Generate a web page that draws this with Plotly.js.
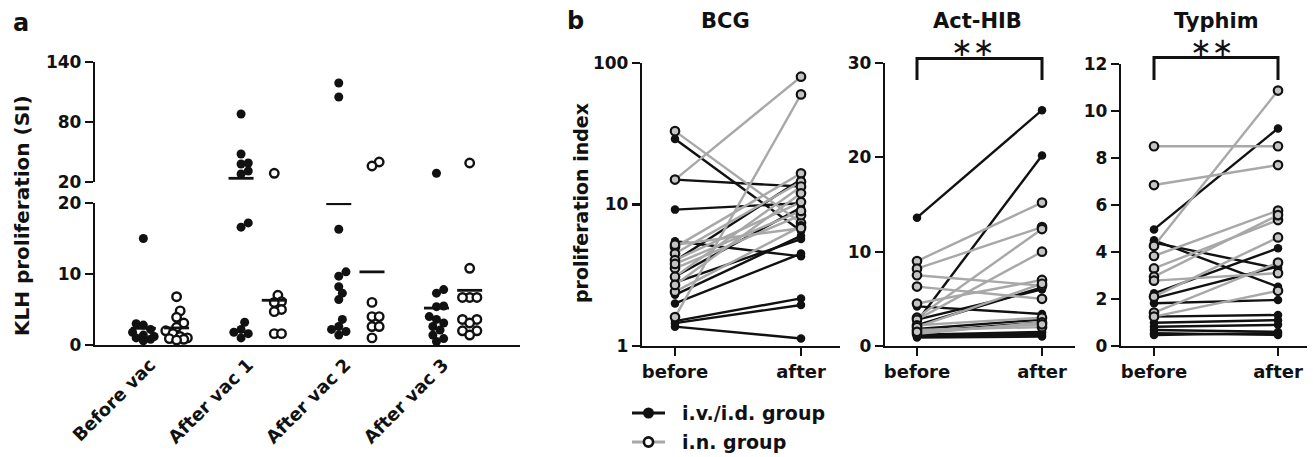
<!DOCTYPE html>
<html><head><meta charset="utf-8">
<script src="https://cdn.plot.ly/plotly-3.0.1.min.js"></script>
<style>html,body{margin:0;padding:0;background:#fff}#chart{width:1313px;height:457px}</style>
</head><body><div id="chart"></div>
<script>
// ---------- Panel a data (KLH proliferation, SI) ----------
const categoriesA = ['Before vac', 'After vac 1', 'After vac 2', 'After vac 3'];
const klhIvidBefore = [15.0, 3.0, 2.8, 2.2, 1.8, 1.4, 1.2, 1.0, 0.8, 0.6];
const klhIvidVac1   = [88, 48, 39, 38, 31, 28, 17.2, 16.6, 3.2, 2.2, 1.8, 1.6, 1.0];
const klhIvidVac2   = [119, 105, 16.3, 10.3, 9.7, 8.2, 7.3, 6.4, 3.6, 2.6, 2.2, 1.9, 1.4];
const klhIvidVac3   = [28.7, 7.8, 7.3, 5.5, 5.4, 4.0, 3.6, 3.1, 2.6, 2.1, 1.4, 0.9, 0.5];
const klhInBefore   = [6.8, 4.8, 3.9, 3.1, 2.5, 2.0, 1.6, 1.2, 1.0, 0.9, 0.8, 0.7];
const klhInVac1     = [28.7, 7.0, 6.1, 6.0, 5.0, 4.7, 1.6, 1.6];
const klhInVac2     = [40, 36, 6.0, 4.0, 4.0, 2.6, 2.6, 1.0];
const klhInVac3     = [39, 10.8, 6.7, 6.7, 6.7, 3.6, 3.6, 3.1, 2.0, 2.0, 1.4];
const klhIvidMean   = [2.35, 23.7, 19.9, 5.2];
const klhInMean     = [2.4, 6.3, 10.3, 7.7];
const yTicksLowA = [0, 10, 20];
const yTicksHighA = [20, 80, 140];

// ---------- Panel b data (proliferation index) ----------
const timepoints = ['before', 'after'];
const bcgIvidBefore = [29, 15, 9.2, 5.5, 4.0, 3.1, 2.3, 2.0, 1.5, 1.45, 1.37, 2.8];
const bcgIvidAfter  = [6.5, 13.4, 10.2, 4.3, 15, 9.5, 6.0, 4.5, 2.17, 1.95, 1.13, 5.7];
const bcgInBefore   = [33, 15, 1.6, 5.0, 4.5, 4.05, 3.54, 3.09, 2.42, 5.2, 2.7, 3.8];
const bcgInAfter    = [7.4, 80, 60, 16.6, 14.5, 10.4, 8.4, 13.4, 7.0, 6.8, 12, 9.0];

const hibIvidBefore = [13.6, 2.6, 4.2, 2.8, 1.5, 1.2, 1.0, 0.9, 1.8, 1.1, 2.2];
const hibIvidAfter  = [25, 20.2, 3.4, 6.0, 2.5, 1.5, 1.2, 1.0, 2.8, 1.4, 6.2];
const hibInBefore   = [9.0, 8.2, 7.5, 6.3, 4.5, 3.0, 2.8, 2.2, 1.7, 1.3, 2.0, 1.5];
const hibInAfter    = [15.2, 12.6, 6.4, 5.0, 7.0, 12.4, 10.0, 3.0, 2.0, 2.5, 6.6, 2.3];

const typIvidBefore = [4.96, 4.5, 2.24, 2.03, 1.82, 1.25, 0.99, 0.82, 0.68, 0.54, 0.47, 4.4];
const typIvidAfter  = [9.26, 2.52, 4.16, 3.38, 1.96, 1.32, 1.1, 0.9, 0.6, 0.47, 0.55, 3.3];
const typInBefore   = [8.5, 6.85, 4.26, 3.83, 3.3, 2.95, 2.78, 2.1, 1.42, 1.25];
const typInAfter    = [8.5, 7.7, 10.87, 5.76, 5.36, 5.57, 3.1, 4.62, 3.55, 2.35];

const panelTitles = ['BCG', 'Act-HIB', 'Typhim'];
const legendLabels = ['i.v./i.d. group', 'i.n. group'];

// ---------- layout helpers ----------
const W = 1313, H = 457;
const FONT = 'DejaVu Sans';
const px = v => v / W;
const py = v => 1 - v / H;
const BLACK = '#111111', GREY = '#a8a8a8';

const A = {x0: 95, x1: 520, xr: [-0.665, 3.685], yLow: [203, 345], yHigh: [62, 182]};
const pxPerXA = (A.x1 - A.x0) / (A.xr[1] - A.xr[0]);
function yPixA(v) {
  return v > 20 ? A.yHigh[1] - (v - 20) * (A.yHigh[1] - A.yHigh[0]) / 120
                : A.yLow[1] - v * (A.yLow[1] - A.yLow[0]) / 20;
}
// compact bee-swarm: allow some overlap, limit spread to about +-12 px
function swarm(vals, center) {
  const D = 7.2, step = 3.6, maxK = 7;
  const placed = [], out = new Array(vals.length);
  const order = vals.map((v, i) => i).sort((a, b) => vals[a] - vals[b]);
  for (const i of order) {
    const yy = yPixA(vals[i]);
    let chosen = 0, best = -1;
    for (let k = 0; k < maxK; k++) {
      const off = k === 0 ? 0 : (k % 2 ? 1 : -1) * Math.ceil(k / 2) * step;
      const md = placed.length ? Math.min(...placed.map(p => Math.hypot(p[0] - off, p[1] - yy))) : 1e9;
      if (md >= D) { chosen = off; best = md; break; }
      if (md > best) { best = md; chosen = off; }
    }
    placed.push([chosen, yy]);
    out[i] = center + chosen / pxPerXA;
  }
  return out;
}

const traces = [];
const ividGroups = [klhIvidBefore, klhIvidVac1, klhIvidVac2, klhIvidVac3];
const inGroups = [klhInBefore, klhInVac1, klhInVac2, klhInVac3];
const OFF = 0.17, HALF = 0.128;

function addGroup(vals, center, filled) {
  const xs = swarm(vals, center);
  const lo = {x: [], y: []}, hi = {x: [], y: []};
  vals.forEach((v, i) => { const t = v > 20 ? hi : lo; t.x.push(xs[i]); t.y.push(v); });
  const marker = filled
    ? {size: 9, color: BLACK, line: {width: 0}}
    : {size: 8.5, color: 'white', line: {width: 2.4, color: BLACK}};
  traces.push({x: lo.x, y: lo.y, xaxis: 'x', yaxis: 'y', mode: 'markers', marker, cliponaxis: false, showlegend: false, hoverinfo: 'y'});
  traces.push({x: hi.x, y: hi.y, xaxis: 'x', yaxis: 'y2', mode: 'markers', marker, cliponaxis: false, showlegend: false, hoverinfo: 'y'});
}
categoriesA.forEach((c, ci) => {
  addGroup(ividGroups[ci], ci - OFF, true);
  addGroup(inGroups[ci], ci + OFF, false);
});
function addMeans(means, shift) {
  const lo = {x: [], y: []}, hi = {x: [], y: []};
  means.forEach((m, ci) => {
    const t = m > 20 ? hi : lo;
    t.x.push(ci + shift - HALF, ci + shift + HALF, null);
    t.y.push(m, m, null);
  });
  traces.push({x: lo.x, y: lo.y, xaxis: 'x', yaxis: 'y', mode: 'lines', line: {color: BLACK, width: 2.8}, showlegend: false, hoverinfo: 'skip', cliponaxis: false});
  traces.push({x: hi.x, y: hi.y, xaxis: 'x', yaxis: 'y2', mode: 'lines', line: {color: BLACK, width: 2.8}, showlegend: false, hoverinfo: 'skip', cliponaxis: false});
}
addMeans(klhIvidMean, -OFF);
addMeans(klhInMean, OFF);

// ---------- panel b traces ----------
function pairs(b, a) {
  const x = [], y = [];
  b.forEach((v, i) => { x.push(0, 1, null); y.push(v, a[i], null); });
  return {x, y};
}
const sub = [
  {ax: 'x2', ay: 'y3', ib: bcgIvidBefore, ia: bcgIvidAfter, nb: bcgInBefore, na: bcgInAfter},
  {ax: 'x3', ay: 'y4', ib: hibIvidBefore, ia: hibIvidAfter, nb: hibInBefore, na: hibInAfter},
  {ax: 'x4', ay: 'y5', ib: typIvidBefore, ia: typIvidAfter, nb: typInBefore, na: typInAfter}
];
sub.forEach(s => {
  const pi = pairs(s.ib, s.ia), pn = pairs(s.nb, s.na);
  traces.push({x: pi.x, y: pi.y, xaxis: s.ax, yaxis: s.ay, mode: 'lines', line: {color: BLACK, width: 2.4}, showlegend: false, hoverinfo: 'skip', cliponaxis: false});
  traces.push({x: pn.x, y: pn.y, xaxis: s.ax, yaxis: s.ay, mode: 'lines', line: {color: GREY, width: 2.4}, showlegend: false, hoverinfo: 'skip', cliponaxis: false});
  traces.push({x: pi.x, y: pi.y, xaxis: s.ax, yaxis: s.ay, mode: 'markers', marker: {size: 8.5, color: BLACK}, showlegend: false, cliponaxis: false});
  traces.push({x: pn.x, y: pn.y, xaxis: s.ax, yaxis: s.ay, mode: 'markers', marker: {size: 8.5, color: '#c4c4c4', line: {width: 2.2, color: BLACK}}, showlegend: false, cliponaxis: false});
});

// ---------- axes ----------
const tickFont = {family: FONT, size: 17, color: BLACK, weight: 'bold'};
const baseAx = {showline: true, linewidth: 2.2, linecolor: BLACK, showgrid: false, zeroline: false,
  ticks: 'outside', ticklen: 8, tickwidth: 2.2, tickcolor: BLACK, tickfont: tickFont, fixedrange: true};

const B = [
  {x0: 642, x1: 840, b: 675, a: 801, top: 63},
  {x0: 885, x1: 1075, b: 917, a: 1042, top: 63},
  {x0: 1121, x1: 1307, b: 1154, a: 1278, top: 64}
];
function xRange(s) {
  const u = s.a - s.b;
  return [(s.x0 - s.b) / u, (s.x1 - s.b) / u];
}

const layout = {
  width: W, height: H, margin: {l: 0, r: 0, t: 0, b: 0},
  paper_bgcolor: 'white', plot_bgcolor: 'white', showlegend: false,
  font: {family: FONT, color: BLACK},
  xaxis: Object.assign({}, baseAx, {domain: [px(A.x0), px(A.x1)], range: A.xr, anchor: 'y',
    ticks: '', tickvals: categoriesA.map((c, i) => i - 0.1), ticktext: categoriesA, tickangle: -45,
    tickfont: Object.assign({}, tickFont, {size: 18})}),
  yaxis: Object.assign({}, baseAx, {domain: [py(A.yLow[1]), py(A.yLow[0])], range: [0, 20], anchor: 'x',
    tickvals: yTicksLowA}),
  yaxis2: Object.assign({}, baseAx, {domain: [py(A.yHigh[1]), py(A.yHigh[0])], range: [20, 140], anchor: 'x',
    tickvals: yTicksHighA}),
  xaxis2: Object.assign({}, baseAx, {domain: [px(B[0].x0), px(B[0].x1)], range: xRange(B[0]), anchor: 'y3',
    tickvals: [0, 1], ticktext: timepoints, tickfont: Object.assign({}, tickFont, {size: 18})}),
  yaxis3: Object.assign({}, baseAx, {domain: [py(346), py(B[0].top)], type: 'log', range: [0, 2], anchor: 'x2',
    tickvals: [1, 10, 100], ticktext: ['1', '10', '100']}),
  xaxis3: Object.assign({}, baseAx, {domain: [px(B[1].x0), px(B[1].x1)], range: xRange(B[1]), anchor: 'y4',
    tickvals: [0, 1], ticktext: timepoints, tickfont: Object.assign({}, tickFont, {size: 18})}),
  yaxis4: Object.assign({}, baseAx, {domain: [py(346), py(B[1].top)], range: [0, 30], anchor: 'x3',
    tickvals: [0, 10, 20, 30]}),
  xaxis4: Object.assign({}, baseAx, {domain: [px(B[2].x0), px(B[2].x1)], range: xRange(B[2]), anchor: 'y5',
    tickvals: [0, 1], ticktext: timepoints, tickfont: Object.assign({}, tickFont, {size: 18})}),
  yaxis5: Object.assign({}, baseAx, {domain: [py(346), py(B[2].top)], range: [0, 12], anchor: 'x4',
    tickvals: [0, 2, 4, 6, 8, 10, 12]}),
  shapes: [],
  annotations: []
};

const bold = (size) => ({family: FONT, size, color: BLACK, weight: 'bold'});
const ann = layout.annotations;
ann.push({xref: 'paper', yref: 'paper', x: px(21), y: py(23), text: 'a', showarrow: false, font: bold(24), xanchor: 'center', yanchor: 'middle'});
ann.push({xref: 'paper', yref: 'paper', x: px(575), y: py(21), text: 'b', showarrow: false, font: bold(24), xanchor: 'center', yanchor: 'middle'});
ann.push({xref: 'paper', yref: 'paper', x: px(22), y: py(216), text: 'KLH proliferation (SI)', textangle: -90, showarrow: false, font: bold(20), xanchor: 'center', yanchor: 'middle'});
ann.push({xref: 'paper', yref: 'paper', x: px(581), y: py(203), text: 'proliferation index', textangle: -90, showarrow: false, font: bold(19), xanchor: 'center', yanchor: 'middle'});
const titleX = [725, 977, 1216];
panelTitles.forEach((t, i) => ann.push({xref: 'paper', yref: 'paper', x: px(titleX[i]), y: py(21), text: t, showarrow: false, font: bold(21), xanchor: 'center', yanchor: 'middle'}));

// significance brackets
[['x3', 1, 0.45], ['x4', 2, 0.47]].forEach(([xr, i, sx]) => {
  const top = i === 1 ? 58.5 : 57.5, leg = 80;
  layout.shapes.push({type: 'path', xref: xr, yref: 'paper',
    path: `M 0,${py(leg)} L 0,${py(top)} L 1,${py(top)} L 1,${py(leg)}`,
    line: {color: BLACK, width: 3}});
  ann.push({xref: xr, yref: 'paper', x: sx, y: py(47), text: '∗∗', showarrow: false,
    font: {family: FONT, size: 26, color: BLACK}, xanchor: 'center', yanchor: 'middle'});
});

// legend (drawn manually)
const legY = [413, 442];
[[BLACK, true], [GREY, false]].forEach(([col, filled], i) => {
  layout.shapes.push({type: 'line', xref: 'paper', yref: 'paper', x0: px(632), x1: px(665), y0: py(legY[i]), y1: py(legY[i]), line: {color: col, width: 3.2}});
  const r = filled ? 5.5 : 4.6;
  layout.shapes.push({type: 'circle', xref: 'paper', yref: 'paper', x0: px(648.5 - r), x1: px(648.5 + r), y0: py(legY[i] + r), y1: py(legY[i] - r),
    fillcolor: filled ? BLACK : 'white', line: {color: BLACK, width: filled ? 0 : 2.6}});
  ann.push({xref: 'paper', yref: 'paper', x: px(680), y: py(legY[i]), text: legendLabels[i], showarrow: false, font: bold(19), xanchor: 'left', yanchor: 'middle'});
});

Plotly.newPlot('chart', traces, layout, {displayModeBar: false, staticPlot: true});
</script>
</body></html>
